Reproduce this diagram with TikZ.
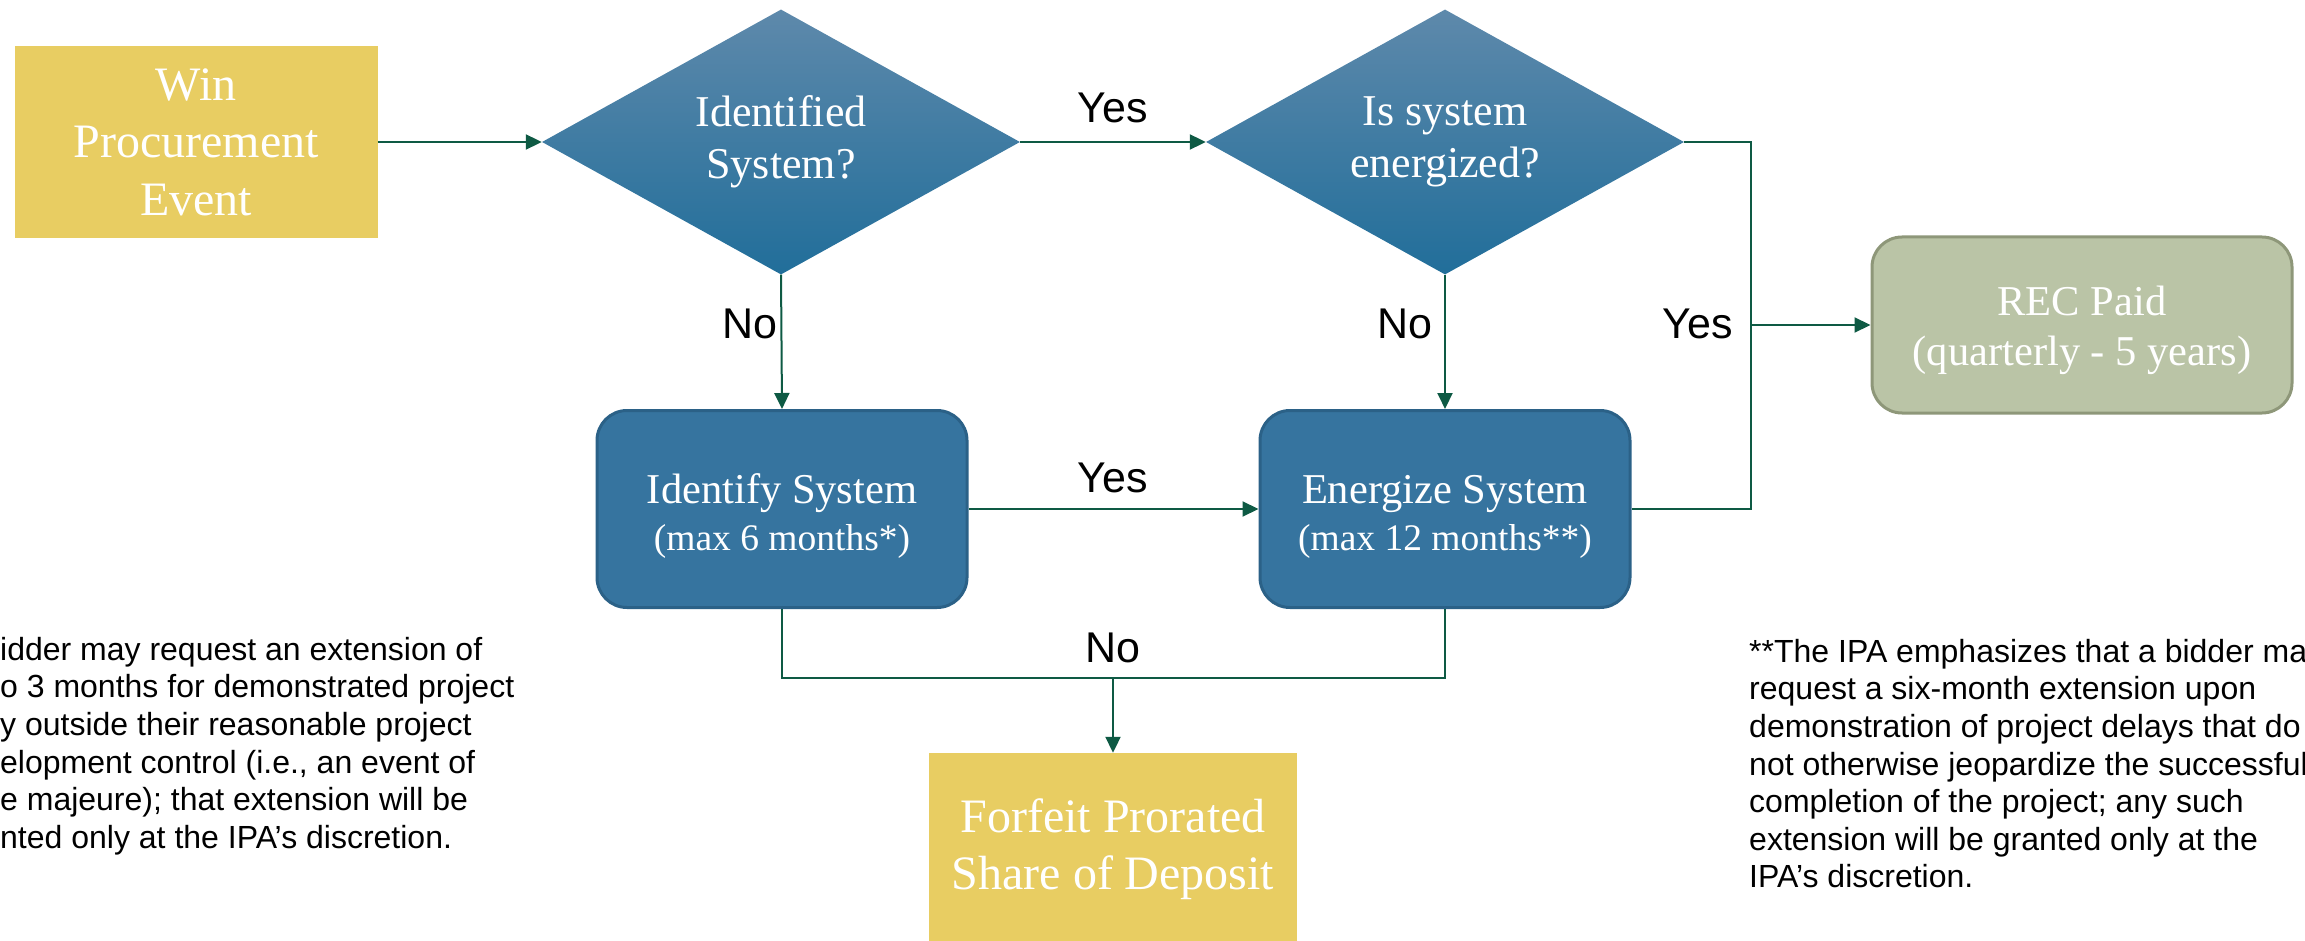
\documentclass[tikz,border=0pt]{standalone}
\usepackage{fontspec}
\setmainfont{Liberation Serif}
\newfontfamily\notefont{Liberation Sans}
\usetikzlibrary{shapes.geometric,arrows.meta}

\definecolor{boxgold}{RGB}{232,205,98}
\definecolor{boxblue}{RGB}{54,116,159}
\definecolor{edgeblue}{RGB}{43,97,135}
\definecolor{boxsage}{RGB}{186,196,166}
\definecolor{edgesage}{RGB}{142,151,121}
\definecolor{linkgreen}{RGB}{14,90,68}

% invisible strut that pushes a box text down
\newcommand{\textdrop}[1]{\rule{0pt}{#1}}

\begin{document}
\begin{tikzpicture}[x=1pt,y=-1pt,
  goldbox/.style={rectangle,fill=boxgold,text=white,align=center,inner sep=0pt,
    font=\fontsize{48}{57.5}\selectfont},
  question/.style={diamond,aspect=1.8,inner sep=0pt,minimum width=478pt,minimum height=265pt,
    shading=axis,top color={rgb,255:red,94;green,137;blue,171},bottom color={rgb,255:red,33;green,110;blue,154},
    text=white,align=center,font=\fontsize{44}{52}\selectfont},
  stepbox/.style={rectangle,rounded corners=30pt,fill=boxblue,draw=edgeblue,line width=3pt,
    text=white,align=center,inner sep=0pt,minimum width=370pt,minimum height=197pt,
    font=\fontsize{42.5}{47}\selectfont},
  paybox/.style={rectangle,rounded corners=30pt,fill=boxsage,draw=edgesage,line width=3pt,
    text=white,align=center,inner sep=0pt,minimum width=420pt,minimum height=176pt,
    font=\fontsize{42.5}{50}\selectfont},
  link/.style={draw=linkgreen,line width=2pt},
  arrowlink/.style={link,-{Triangle[length=16pt,width=15pt]}},
  answer/.style={font=\notefont\fontsize{43}{50}\selectfont},
  footnote/.style={align=left,inner sep=0pt,font=\notefont\fontsize{32}{37.6}\selectfont}]
\useasboundingbox (0,0) rectangle (2305,941);

%Shape: Rectangle [id:win]
\node (win) at (196,142) [goldbox,minimum width=363pt,minimum height=192pt] {Win\\Procurement\\Event};
%Shape: Diamond [id:qid]
\node (qid) at (781,142) [question] {Identified\\System?};
%Shape: Diamond [id:qen]
\node (qen) at (1445,142) [question] {Is system\\energized?};
%Shape: Rounded Rectangle [id:idsys]
\node (idsys) at (782,509) [stepbox] {\textdrop{44pt}Identify System\\{\fontsize{37.5}{47}\selectfont (max 6 months*)}};
%Shape: Rounded Rectangle [id:ensys]
\node (ensys) at (1445,509) [stepbox] {\textdrop{44pt}Energize System\\{\fontsize{37.5}{47}\selectfont (max 12 months**)}};
%Shape: Rounded Rectangle [id:rec]
\node (rec) at (2082,325) [paybox] {\textdrop{41pt}REC Paid\\(quarterly - 5 years)};
%Shape: Rectangle [id:forfeit]
\node (forfeit) at (1113,849) [goldbox,minimum width=368pt,minimum height=192pt] {Forfeit Prorated\\Share of Deposit};

% Joints
\coordinate (recjoin) at (1751,325);
\coordinate (nojoin) at (1113,678);

%Straight Lines
\draw [arrowlink] (win.east) -- (qid.west);
\draw [arrowlink] (qid.east) -- (qen.west);
\draw [arrowlink] (qid.south) -- (idsys.north);
\draw [arrowlink] (qen.south) -- (ensys.north);
\draw [arrowlink] (idsys.east) -- (ensys.west);
\draw [link] (qen.east) -| (recjoin) |- (ensys.east);
\draw [arrowlink] (recjoin) -- (rec.west);
\draw [link] (idsys.south) |- (nojoin) -| (ensys.south);
\draw [arrowlink] (nojoin) -- (forfeit.north);

% Text Node
\node (yes1) at (1113,108) [answer] {Yes};
% Text Node
\node (no1) at (750,324) [answer] {No};
% Text Node
\node (no2) at (1405,324) [answer] {No};
% Text Node
\node (yes2) at (1698,324) [answer] {Yes};
% Text Node
\node (yes3) at (1113,478) [answer] {Yes};
% Text Node
\node (no3) at (1113,648) [answer] {No};

% Text Node
\node (noteone) at (0,637) [footnote,anchor=north west] {idder may request an extension of\\o 3 months for demonstrated project\\y outside their reasonable project\\elopment control (i.e., an event of\\e majeure); that extension will be\\nted only at the IPA’s discretion.};
% Text Node
\node (notetwo) at (1749,639) [footnote,anchor=north west] {**The IPA emphasizes that a bidder ma\\request a six-month extension upon\\demonstration of project delays that do\\not otherwise jeopardize the successful\\completion of the project; any such\\extension will be granted only at the\\IPA’s discretion.};

\end{tikzpicture}
\end{document}
